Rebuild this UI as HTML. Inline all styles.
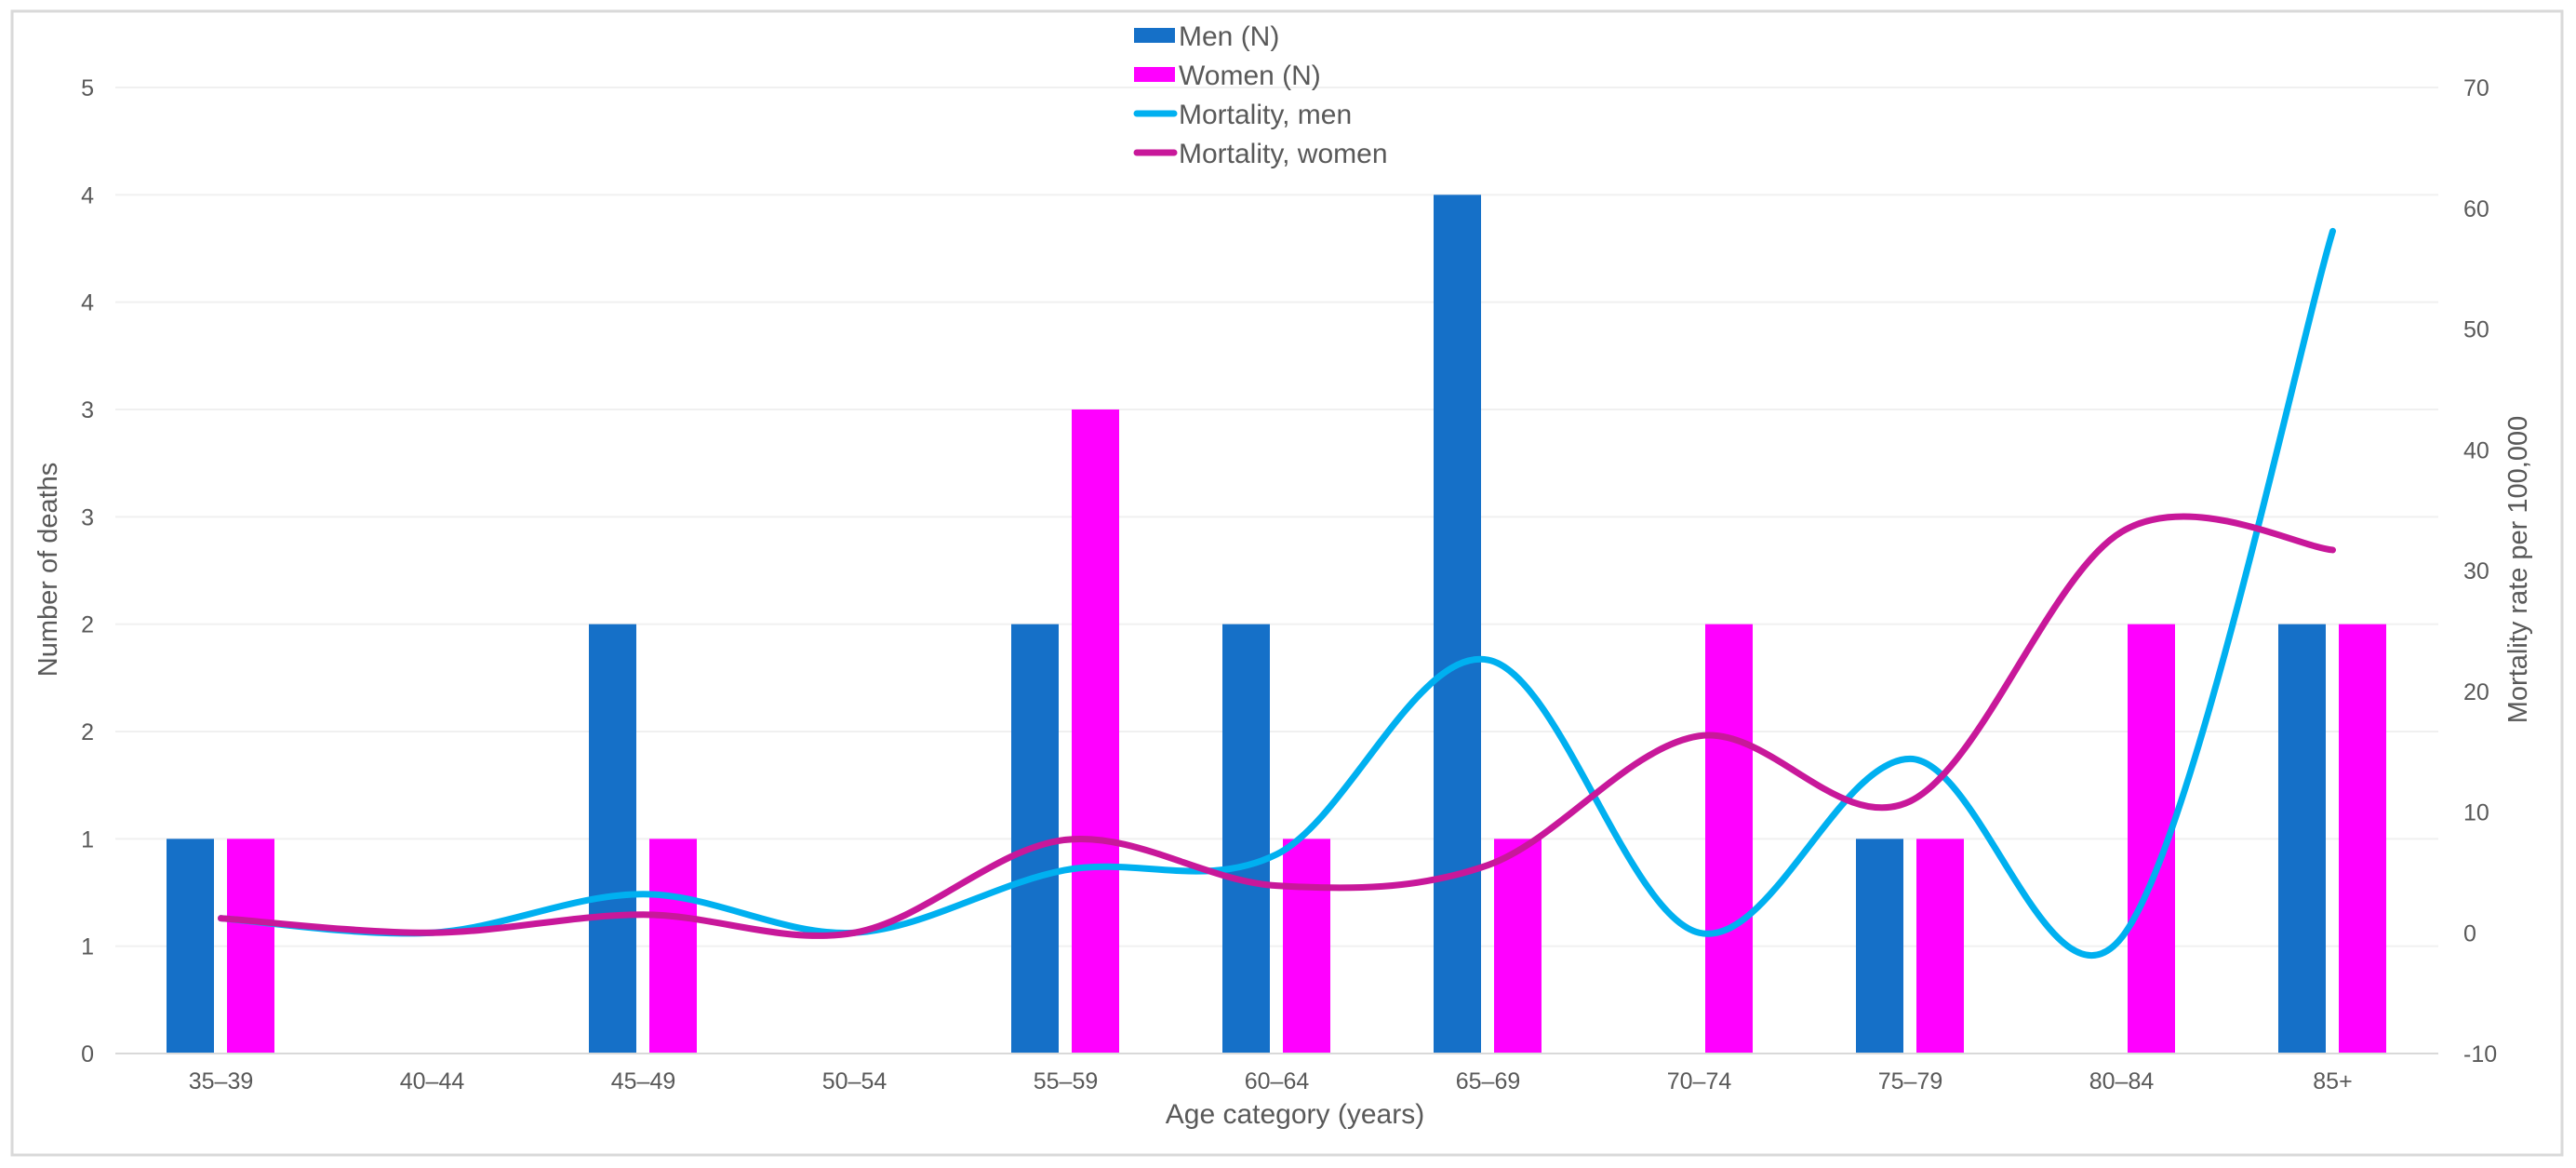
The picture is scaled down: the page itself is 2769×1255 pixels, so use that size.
<!DOCTYPE html>
<html><head><meta charset="utf-8"><style>
body{margin:0;background:#fff}
svg{display:block;font-family:"Liberation Sans",Arial,sans-serif}
</style></head><body>
<svg id="c" width="2769" height="1255" viewBox="0 0 2769 1255">
<rect x="13" y="12" width="2741" height="1229" fill="#fff" stroke="#d9d9d9" stroke-width="3"/>
<g id="grid"></g><g id="bars"></g><g id="lines"></g><g id="axes"></g>
<text x="61" y="612" font-size="29" fill="#595959" text-anchor="middle" transform="rotate(-90 61 612)">Number of deaths</text>
<text x="2716" y="612" font-size="29" fill="#595959" text-anchor="middle" transform="rotate(-90 2716 612)">Mortality rate per 100,000</text>
<text x="1392" y="1207" font-size="30" fill="#595959" text-anchor="middle">Age category (years)</text>
<g>
<g><rect x="1219" y="30" width="44" height="16" fill="#1570c8"/><text x="1267" y="49" font-size="30" fill="#595959">Men (N)</text></g>
<g><rect x="1219" y="72" width="44" height="16" fill="#ff00ff"/><text x="1267" y="91" font-size="30" fill="#595959">Women (N)</text></g>
<g><line x1="1222" y1="122" x2="1262" y2="122" stroke="#00b0f0" stroke-width="7" stroke-linecap="round"/><text x="1267" y="133" font-size="30" fill="#595959">Mortality, men</text></g>
<g><line x1="1222" y1="164" x2="1262" y2="164" stroke="#c8189a" stroke-width="7" stroke-linecap="round"/><text x="1267" y="175" font-size="30" fill="#595959">Mortality, women</text></g>
</g>
</svg>
<script>
const categories=["35–39","40–44","45–49","50–54","55–59","60–64","65–69","70–74","75–79","80–84","85+"];
const menDeaths=[1,0,2,0,2,2,4,0,1,0,2];
const womenDeaths=[1,0,1,0,3,1,1,2,1,2,2];
const menRate=[1.2,0,3.2,0,5.2,6.5,22.6,0,14.4,-0.4,58.1];
const womenRate=[1.2,0,1.5,0,7.7,3.9,5.6,16.3,10.9,33.2,31.7];
const leftTicks=[0,0.5,1,1.5,2,2.5,3,3.5,4,4.5];
const leftTickLabels=["0","1","1","2","2","3","3","4","4","5"];
const rightTicks=[-10,0,10,20,30,40,50,60,70];

const NS="http://www.w3.org/2000/svg";
const L=124,R=2621,B=1132,T=94;
const band=(R-L)/categories.length;
const xC=i=>L+band*(i+0.5);
const yL=v=>B-(v-0)/(4.5-0)*(B-T);
const yR=v=>B-(v+10)/80*(B-T);
function mk(tag,attrs,parent){const e=document.createElementNS(NS,tag);for(const k in attrs)e.setAttribute(k,attrs[k]);parent.appendChild(e);return e;}
const g=document.getElementById('grid'),gb=document.getElementById('bars'),gl=document.getElementById('lines'),ga=document.getElementById('axes');
leftTicks.forEach((t,i)=>{
  const y=yL(t);
  if(t>0){const ln=mk('line',{x1:L,x2:R,y1:y,y2:y,stroke:'#f0f0f0','stroke-width':2},g);
  
  }
  const tx=mk('text',{x:101,y:y+9,'font-size':25,fill:'#595959','text-anchor':'end'},ga);
  tx.textContent=leftTickLabels[i];
  
  
});
rightTicks.forEach(t=>{
  const tx=mk('text',{x:2648,y:yR(t)+9,'font-size':25,fill:'#595959'},ga);
  tx.textContent=String(t);
  
  
});
const ax=mk('line',{x1:L,x2:R,y1:B,y2:B,stroke:'#d9d9d9','stroke-width':2},ga);


categories.forEach((c,i)=>{
  const tx=mk('text',{x:xC(i),y:1170,'font-size':25,fill:'#595959','text-anchor':'middle'},ga);
  tx.textContent=c;
  
  
  const bw=51;
  if(menDeaths[i]>0){const r=mk('rect',{x:xC(i)-33-bw/2,y:yL(menDeaths[i]),width:bw,height:B-yL(menDeaths[i]),fill:'#1570c8'},gb);
  
  }
  if(womenDeaths[i]>0){const r=mk('rect',{x:xC(i)+32-bw/2,y:yL(womenDeaths[i]),width:bw,height:B-yL(womenDeaths[i]),fill:'#ff00ff'},gb);
  
  }
});
function smooth(vals){
  const p=vals.map((v,i)=>[xC(i),yR(v)]);
  let d='M'+p[0][0]+','+p[0][1];
  for(let i=0;i<p.length-1;i++){
    const p0=p[Math.max(0,i-1)],p1=p[i],p2=p[i+1],p3=p[Math.min(p.length-1,i+2)];
    const c1=[p1[0]+(p2[0]-p0[0])/6,p1[1]+(p2[1]-p0[1])/6];
    const c2=[p2[0]-(p3[0]-p1[0])/6,p2[1]-(p3[1]-p1[1])/6];
    d+=' C'+c1+' '+c2+' '+p2;
  }
  return d;
}
const lm=mk('path',{d:smooth(menRate),fill:'none',stroke:'#00b0f0','stroke-width':7,'stroke-linecap':'round'},gl);


const lw=mk('path',{d:smooth(womenRate),fill:'none',stroke:'#c8189a','stroke-width':7,'stroke-linecap':'round'},gl);


</script>
</body></html>
